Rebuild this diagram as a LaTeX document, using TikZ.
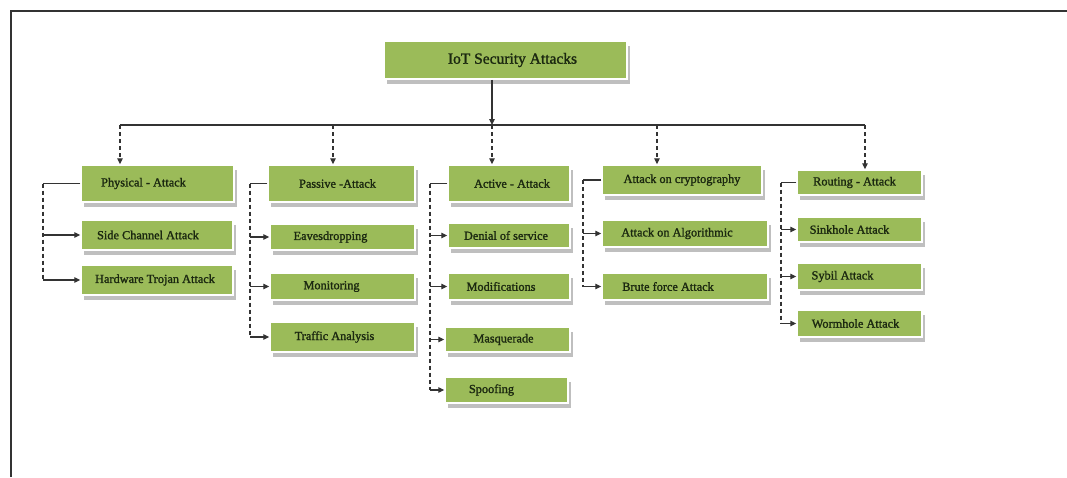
\documentclass[tikz,border=0pt]{standalone}
\usepackage{fontspec}
\setmainfont{Liberation Serif}
\newfontfamily\boxfont{Liberation Serif}[FakeBold=1.4]
\usetikzlibrary{arrows.meta,shadows}
\definecolor{leaf}{HTML}{9BBB59}
\definecolor{ink}{HTML}{1B2810}
\definecolor{wirecol}{HTML}{333333}
\begin{document}
\begin{tikzpicture}[x=1pt,y=-1pt,
  box/.style={draw=white, line width=1.5pt, fill=leaf, text=ink, inner sep=0pt,
    font=\boxfont\fontsize{12.3}{14}\selectfont,
    drop shadow={shadow xshift=3pt, shadow yshift=-5pt, fill=gray!50, opacity=1}},
  rootbox/.style={box, font=\boxfont\fontsize{15.5}{18}\selectfont},
  wh/.style 2 args={minimum width=#1pt, minimum height=#2pt},
  dx/.style={execute at begin node={\hspace*{#1}\hspace*{#1}}},
  wire/.style={draw=wirecol, line width=1.1pt},
  spine/.style={wire, dash pattern=on 4pt off 3pt},
  tip/.style={-{Triangle[length=6pt,width=5.5pt]}}
]
\useasboundingbox (0,0) rectangle (1067,477);
\fill[white] (0,0) rectangle (1067,477);
% outer frame (top and left edges)
\draw[line width=2pt, black!80] (10.5,477) -- (10.5,11) -- (1067,11);

% root
\node[rootbox, wh={243}{38}, dx=7pt] (root) at (505.5,60) {IoT Security Attacks};

% category heads
\node[box, wh={153}{37}, dx=-14pt] (phys)   at (157.5,183.5) {Physical - Attack};
\node[box, wh={147}{37}, dx=-4pt]  (pass)   at (341.5,183.5) {Passive -Attack};
\node[box, wh={122}{37}, dx=3pt]   (act)    at (509,183.5)   {Active - Attack};
\node[box, wh={160}{30}]           (crypt)  at (682,180)     {Attack on cryptography};
\node[box, wh={125}{25}, dx=-5pt]  (route)  at (859.5,182.5) {Routing - Attack};

% physical
\node[box, wh={152}{30}, dx=-9pt]  (side)   at (157,235)   {Side Channel Attack};
\node[box, wh={152}{30}, dx=-2pt]  (hw)     at (157,280)   {Hardware Trojan Attack};
% passive
\node[box, wh={145}{26}, dx=-12pt] (eaves)  at (342.5,237)   {Eavesdropping};
\node[box, wh={145}{27}, dx=-11pt] (mon)    at (342.5,286.5) {Monitoring};
\node[box, wh={145}{30}, dx=-8pt]  (traf)   at (342.5,337)   {Traffic Analysis};
% active
\node[box, wh={122}{25}, dx=-3pt]  (dos)    at (509,235.5)   {Denial of service};
\node[box, wh={122}{27}, dx=-8pt]  (modif)  at (509,286.5)   {Modifications};
\node[box, wh={125}{25}, dx=-4pt]  (masq)   at (507.5,339.5) {Masquerade};
\node[box, wh={123}{26}, dx=-15pt] (spoof)  at (506.5,390)   {Spoofing};
% cryptography
\node[box, wh={166}{27}, dx=-8pt]  (algo)   at (685,233.5)   {Attack on Algorithmic};
\node[box, wh={166}{27}, dx=-17pt] (brute)  at (685,286.5)   {Brute force Attack};
% routing
\node[box, wh={125}{25}, dx=-10pt] (sink)   at (859.5,229.5) {Sinkhole Attack};
\node[box, wh={125}{27}, dx=-17pt] (sybil)  at (859.5,276.5) {Sybil Attack};
\node[box, wh={125}{27}, dx=-4pt]  (worm)   at (859.5,323.5) {Wormhole Attack};

% bus from the root to the five categories
\coordinate (h1) at (120,125);
\coordinate (h2) at (333,125);
\coordinate (h3) at (492,125);
\coordinate (h4) at (657,125);
\coordinate (h5) at (865,125);
\draw[wire] (h1) -- (h5);
\draw[wire, tip] (root.south -| h3) -- (h3);
\draw[spine, tip] (h1) -- (h1 |- phys.north);
\draw[spine, tip] (h2) -- (h2 |- pass.north);
\draw[spine, tip] (h3) -- (h3 |- act.north);
\draw[spine, tip] (h4) -- (h4 |- crypt.north);
\draw[spine, tip] (h5) -- (h5 |- route.north);

% spines on the left of each column
\coordinate (s1) at (43,0);
\coordinate (s2) at (250,0);
\coordinate (s3) at (430,0);
\coordinate (s4) at (583,0);
\coordinate (s5) at (781,0);

\draw[wire] (phys.west) -- (phys.west -| s1);
\draw[spine] (phys.west -| s1) -- (hw.west -| s1);
\foreach \c in {side,hw} \draw[wire, tip] (\c.west -| s1) -- (\c.west);

\draw[wire] (pass.west) -- (pass.west -| s2);
\draw[spine] (pass.west -| s2) -- (traf.west -| s2);
\foreach \c in {eaves,mon,traf} \draw[wire, tip] (\c.west -| s2) -- (\c.west);

\draw[wire] (act.west) -- (act.west -| s3);
\draw[spine] (act.west -| s3) -- (spoof.west -| s3);
\foreach \c in {dos,modif,masq,spoof} \draw[wire, tip] (\c.west -| s3) -- (\c.west);

\draw[wire] (crypt.west) -- (crypt.west -| s4);
\draw[spine] (crypt.west -| s4) -- (brute.west -| s4);
\foreach \c in {algo,brute} \draw[wire, tip] (\c.west -| s4) -- (\c.west);

\draw[wire] (route.west) -- (route.west -| s5);
\draw[spine] (route.west -| s5) -- (worm.west -| s5);
\foreach \c in {sink,sybil,worm} \draw[wire, tip] (\c.west -| s5) -- (\c.west);
\end{tikzpicture}
\end{document}
